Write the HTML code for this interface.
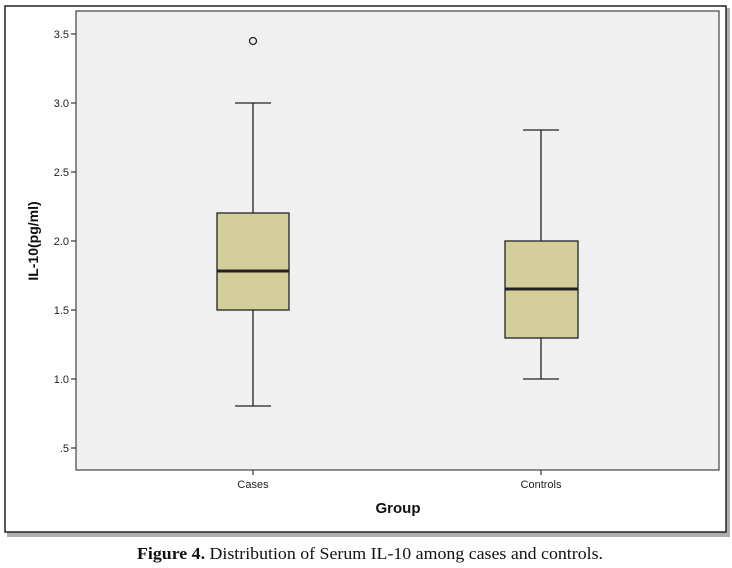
<!DOCTYPE html>
<html><head><style>
body{margin:0;background:#fff;}
svg{display:block;}
</style></head><body>
<svg width="732" height="568" xmlns="http://www.w3.org/2000/svg" font-family="Liberation Sans, sans-serif">
<rect x="7" y="8" width="723" height="529" fill="#777" opacity="0.6"/>
<rect x="5" y="6" width="721" height="526" fill="#fff" stroke="#222" stroke-width="1.5"/>
<rect x="76" y="11" width="643" height="459" fill="#f0f0f0" stroke="#444" stroke-width="1.2"/>
<g stroke="#333" stroke-width="1.2">
<line x1="71" y1="34" x2="76" y2="34"/><line x1="71" y1="103" x2="76" y2="103"/>
<line x1="71" y1="172" x2="76" y2="172"/><line x1="71" y1="241" x2="76" y2="241"/>
<line x1="71" y1="310" x2="76" y2="310"/><line x1="71" y1="379" x2="76" y2="379"/>
<line x1="71" y1="448" x2="76" y2="448"/>
<line x1="253" y1="470" x2="253" y2="475"/><line x1="541" y1="470" x2="541" y2="475"/>
</g>
<g font-size="11" fill="#222" text-anchor="end">
<text x="69" y="38">3.5</text><text x="69" y="107">3.0</text><text x="69" y="176">2.5</text>
<text x="69" y="245">2.0</text><text x="69" y="314">1.5</text><text x="69" y="383">1.0</text>
<text x="69" y="452">.5</text>
</g>
<g font-size="11" fill="#222" text-anchor="middle">
<text x="253" y="488">Cases</text><text x="541" y="488">Controls</text>
</g>
<text x="398" y="513" font-size="15" font-weight="bold" text-anchor="middle" fill="#111">Group</text>
<text transform="translate(38,241) rotate(-90)" font-size="14" font-weight="bold" text-anchor="middle" fill="#111">IL-10(pg/ml)</text>
<g stroke="#222" stroke-width="1.3">
<line x1="253" y1="103" x2="253" y2="213"/><line x1="253" y1="310" x2="253" y2="406"/>
<line x1="235" y1="103" x2="271" y2="103"/><line x1="235" y1="406" x2="271" y2="406"/>
<rect x="217" y="213" width="72" height="97" fill="#d4cf9a"/>
<line x1="217" y1="271" x2="289" y2="271" stroke-width="3"/>
<circle cx="253" cy="41" r="3.5" fill="none"/>
<line x1="541" y1="130" x2="541" y2="241"/><line x1="541" y1="338" x2="541" y2="379"/>
<line x1="523" y1="130" x2="559" y2="130"/><line x1="523" y1="379" x2="559" y2="379"/>
<rect x="505" y="241" width="73" height="97" fill="#d4cf9a"/>
<line x1="505" y1="289" x2="578" y2="289" stroke-width="3"/>
</g>
<text x="370" y="559" font-family="Liberation Serif, serif" font-size="17" text-anchor="middle" fill="#111" textLength="466" lengthAdjust="spacingAndGlyphs"><tspan font-weight="bold">Figure 4.</tspan> Distribution of Serum IL-10 among cases and controls.</text>
</svg>
</body></html>
